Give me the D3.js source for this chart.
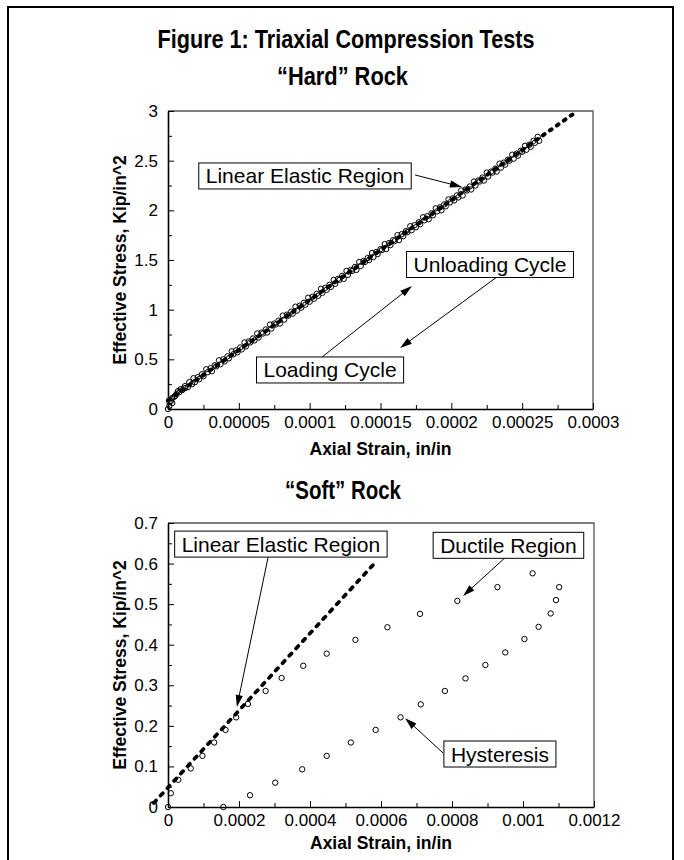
<!DOCTYPE html>
<html><head><meta charset="utf-8">
<script src="https://cdn.jsdelivr.net/npm/d3@7"></script>
<style>body{margin:0;background:#fff}svg{display:block}</style>
</head><body><div id="chart"></div>
<script>
// ---------- DATA ----------
// "Hard" rock (strain in micro-strain, stress in kip/in^2)
const hardLoadStrain = [0,1,2,3,4,6,8,10,12,14,17,19,22,25,28,31,34,37,40,43,46,49,52,55,58,61,64,67,70,73,76,79,82,85,88,91,94,97,100,103,106,109,112,115,118,121,124,127,130,133,136,139,142,145,148,151,154,157,160,163,166,169,172,175,178,181,184,187,190,193,196,199,202,205,208,211,214,217,220,223,226,229,232,235,238,241,244,247,250,253,256,259,262];
const hardLoadStress = [0,0.03,0.08,0.06,0.12,0.15,0.17,0.19,0.21,0.22,0.25,0.27,0.30,0.33,0.37,0.38,0.43,0.45,0.48,0.51,0.55,0.57,0.60,0.63,0.67,0.69,0.72,0.76,0.77,0.81,0.85,0.86,0.90,0.94,0.96,0.99,1.02,1.05,1.08,1.11,1.14,1.17,1.20,1.23,1.26,1.30,1.31,1.35,1.39,1.40,1.44,1.48,1.50,1.53,1.56,1.60,1.61,1.65,1.69,1.70,1.74,1.78,1.80,1.83,1.86,1.90,1.91,1.95,1.99,2.00,2.04,2.08,2.10,2.13,2.15,2.20,2.21,2.25,2.29,2.30,2.34,2.38,2.39,2.43,2.46,2.50,2.52,2.55,2.59,2.61,2.64,2.68,2.70];
const hardUnloadStrain = [261,258,255,252,249,246,243,240,237,234,231,228,225,222,219,216,213,210,207,204,201,198,195,192,189,186,183,180,177,174,171,168,165,162,159,156,153,150,147,144,141,138,135,132,129,126,123,120,117,114,111,108,105,102,99,96,93,90,87,84,81,78,75,72,69,66,63,60,57,54,51,48,45,42,39,36,33,30,27,24,21,18,15,12,9,7,5,3,1];
const hardUnloadStress = [2.74,2.70,2.66,2.65,2.60,2.57,2.56,2.51,2.48,2.47,2.42,2.39,2.38,2.33,2.30,2.29,2.24,2.21,2.20,2.15,2.12,2.11,2.06,2.03,2.02,1.97,1.94,1.93,1.88,1.85,1.84,1.79,1.76,1.75,1.70,1.67,1.66,1.61,1.58,1.57,1.52,1.49,1.48,1.43,1.40,1.39,1.34,1.31,1.30,1.25,1.22,1.21,1.16,1.13,1.12,1.07,1.04,1.03,0.98,0.95,0.94,0.89,0.86,0.85,0.80,0.77,0.76,0.71,0.68,0.67,0.62,0.59,0.58,0.53,0.50,0.49,0.44,0.41,0.40,0.35,0.32,0.31,0.27,0.23,0.20,0.18,0.13,0.11,0.07];
const hardFitStrain = [0, 287];
const hardFitStress = [0.09, 2.98];

// "Soft" rock (strain in micro-strain, stress in kip/in^2)
const softStrain = [0,8,29,64,97,130,162,192,225,275,320,381,447,528,618,710,815,928,1027,1102,1093,1078,1044,1004,950,894,838,780,712,655,585,515,447,378,302,231,156];
const softStress = [0,0.034,0.067,0.095,0.126,0.159,0.19,0.221,0.254,0.286,0.318,0.348,0.378,0.412,0.443,0.476,0.508,0.542,0.576,0.542,0.510,0.477,0.444,0.414,0.381,0.350,0.317,0.286,0.253,0.221,0.19,0.159,0.126,0.093,0.060,0.029,0.0];
const softFitStrain = [-40, 580];
const softFitStress = [0.01, 0.599];

// Axis ticks
const hardXTicks = [0,0.00005,0.0001,0.00015,0.0002,0.00025,0.0003];
const hardXTickLabels = ["0","0.00005","0.0001","0.00015","0.0002","0.00025","0.0003"];
const hardXMinor = [0.000025,0.000075,0.000125,0.000175,0.000225,0.000275];
const hardYTicks = [0,0.5,1,1.5,2,2.5,3];
const hardYTickLabels = ["0","0.5","1","1.5","2","2.5","3"];
const hardYMinor = [0.25,0.75,1.25,1.75,2.25,2.75];
const softXTicks = [0,0.0002,0.0004,0.0006,0.0008,0.001,0.0012];
const softXTickLabels = ["0","0.0002","0.0004","0.0006","0.0008","0.001","0.0012"];
const softXMinor = [0.0001,0.0003,0.0005,0.0007,0.0009,0.0011];
const softYTicks = [0,0.1,0.2,0.3,0.4,0.5,0.6,0.7];
const softYTickLabels = ["0","0.1","0.2","0.3","0.4","0.5","0.6","0.7"];
const softYMinor = [0.05,0.15,0.25,0.35,0.45,0.55,0.65];

// Annotations (data coordinates)
const hardNotes = [
  {text:"Linear Elastic Region", cx:0.0000967, cy:2.346, fx:0.0001744, fy:2.356, tx:0.0002075, ty:2.235},
  {text:"Unloading Cycle", cx:0.0002273, cy:1.455, fx:0.0002322, fy:1.329, tx:0.0001638, ty:0.614},
  {text:"Loading Cycle", cx:0.0001144, cy:0.393, fx:0.0001087, fy:0.523, tx:0.0001722, ty:1.238}
];
const softNotes = [
  {text:"Linear Elastic Region", cx:0.000318, cy:0.648, fx:0.000282, fy:0.616, tx:0.000194, ty:0.2465},
  {text:"Ductile Region", cx:0.000959, cy:0.645, fx:0.000949, fy:0.614, tx:0.000831, ty:0.520},
  {text:"Hysteresis", cx:0.000935, cy:0.1306, fx:0.000775, fy:0.133, tx:0.000668, ty:0.219}
];

// ---------- DRAWING ----------
const W = 684, H = 860;
const SANS = "'Liberation Sans', Arial, Helvetica, sans-serif";
const NARROW = "'Liberation Sans Narrow', 'Arial Narrow', 'Liberation Sans', sans-serif";
const svg = d3.select("#chart").append("svg").attr("width", W).attr("height", H)
  .style("background", "#fff");

// outer frame (open at bottom)
svg.append("path").attr("d", `M8,${H+5}V7H673V${H+5}`)
  .attr("fill", "none").attr("stroke", "#000").attr("stroke-width", 2);

function titleText(txt, x, y, len){
  svg.append("text").attr("x", x).attr("y", y).attr("text-anchor","middle")
    .attr("font-family", NARROW).attr("font-weight","bold").attr("font-size", 26)
    .attr("font-stretch","condensed")
    .attr("textLength", len).attr("lengthAdjust","spacingAndGlyphs")
    .text(txt);
}
titleText("Figure 1: Triaxial Compression Tests", 346, 48, 377);
titleText("\u201CHard\u201D Rock", 342.5, 85, 131);
titleText("\u201CSoft\u201D Rock", 343, 499, 116);

function panel(cfg){
  const x = d3.scaleLinear().domain(cfg.xDom).range([cfg.left, cfg.right]);
  const y = d3.scaleLinear().domain(cfg.yDom).range([cfg.bottom, cfg.top]);
  const g = svg.append("g");

  // top & right border
  g.append("path").attr("d", `M${cfg.left},${cfg.top}H${cfg.right}V${cfg.bottom}`)
    .attr("fill","none").attr("stroke","#555").attr("stroke-width",1.3);

  // minor ticks
  g.append("g").attr("transform",`translate(0,${cfg.bottom})`)
    .call(d3.axisBottom(x).tickValues(cfg.xMinor).tickSize(-4).tickFormat(""))
    .call(a=>a.select(".domain").remove());
  g.append("g").attr("transform",`translate(${cfg.left},0)`)
    .call(d3.axisLeft(y).tickValues(cfg.yMinor).tickSize(-4).tickFormat(""))
    .call(a=>a.select(".domain").remove());

  // major axes
  const xa = g.append("g").attr("transform",`translate(0,${cfg.bottom})`)
    .call(d3.axisBottom(x).tickValues(cfg.xTicks).tickSize(-6).tickSizeOuter(0).tickPadding(7)
      .tickFormat((d,i)=>cfg.xLabels[i]));
  const ya = g.append("g").attr("transform",`translate(${cfg.left},0)`)
    .call(d3.axisLeft(y).tickValues(cfg.yTicks).tickSize(-6).tickSizeOuter(0).tickPadding(10)
      .tickFormat((d,i)=>cfg.yLabels[i]));
  [xa, ya].forEach(a=>{
    a.select(".domain").attr("stroke","#000").attr("stroke-width",1.6);
    a.selectAll("text").attr("font-family",SANS).attr("font-size",17).attr("fill","#000");
  });
  g.selectAll(".tick line").attr("stroke","#000").attr("stroke-width",1);

  // axis titles
  g.append("text").attr("x",(cfg.left+cfg.right)/2).attr("y",cfg.bottom+cfg.xTitleGap)
    .attr("text-anchor","middle").attr("font-family",SANS).attr("font-weight","bold")
    .attr("font-size",17.5).text("Axial Strain, in/in");
  g.append("text").attr("transform",`translate(126,${(cfg.top+cfg.bottom)/2}) rotate(-90)`)
    .attr("text-anchor","middle").attr("font-family",SANS).attr("font-weight","bold")
    .attr("font-size",17.5).text("Effective Stress, Kip/in^2");

  // points
  cfg.series.forEach(s=>{
    g.append("g").selectAll("circle").data(s.xs.map((v,i)=>[v*1e-6, s.ys[i]]))
      .join("circle").attr("cx",d=>x(d[0])).attr("cy",d=>y(d[1])).attr("r",cfg.r)
      .attr("fill","none").attr("stroke","#000").attr("stroke-width",cfg.sw);
  });

  // fit dashed line
  const fit = cfg.fitX.map((v,i)=>[v*1e-6, cfg.fitY[i]]);
  g.append("path").attr("d", d3.line().x(d=>x(d[0])).y(d=>y(d[1]))(fit))
    .attr("fill","none").attr("stroke","#000").attr("stroke-width",cfg.dashW)
    .attr("stroke-linecap","round").attr("stroke-dasharray",cfg.dash);

  // annotations
  cfg.notes.forEach(n=>{
    const x1 = x(n.fx), y1 = y(n.fy), x2 = x(n.tx), y2 = y(n.ty);
    const a = Math.atan2(y2-y1, x2-x1), L = 12, w = 3.6;
    const bx = x2 - L*Math.cos(a), by = y2 - L*Math.sin(a);
    g.append("line").attr("x1",x1).attr("y1",y1).attr("x2",bx+2*Math.cos(a)).attr("y2",by+2*Math.sin(a))
      .attr("stroke","#000").attr("stroke-width",1);
    g.append("polygon").attr("points",[
      [x2,y2],[bx+w*Math.sin(a), by-w*Math.cos(a)],[bx-w*Math.sin(a), by+w*Math.cos(a)]
    ].map(p=>p.join(",")).join(" ")).attr("fill","#000");

    const cx = x(n.cx), cy = y(n.cy);
    const box = g.append("rect");
    const t = g.append("text").attr("x",cx).attr("y",cy+7.5).attr("text-anchor","middle")
      .attr("font-family",SANS).attr("font-size",21).text(n.text);
    const tw = t.node().getComputedTextLength();
    box.attr("x",cx-tw/2-7).attr("y",cy-13).attr("width",tw+14).attr("height",26)
      .attr("fill","#fff").attr("stroke","#000").attr("stroke-width",1);
  });
}

panel({
  left:168, right:593, top:111, bottom:409,
  xDom:[0,0.0003], yDom:[0,3],
  xTicks:hardXTicks, xLabels:hardXTickLabels, xMinor:hardXMinor,
  yTicks:hardYTicks, yLabels:hardYTickLabels, yMinor:hardYMinor,
  xTitleGap:46,
  series:[{xs:hardLoadStrain, ys:hardLoadStress},{xs:hardUnloadStrain, ys:hardUnloadStress}],
  r:2.7, sw:1,
  fitX:hardFitStrain, fitY:hardFitStress, dashW:4, dash:"2,6.5",
  notes:hardNotes
});
panel({
  left:168, right:594, top:523, bottom:807,
  xDom:[0,0.0012], yDom:[0,0.7],
  xTicks:softXTicks, xLabels:softXTickLabels, xMinor:softXMinor,
  yTicks:softYTicks, yLabels:softYTickLabels, yMinor:softYMinor,
  xTitleGap:42,
  series:[{xs:softStrain, ys:softStress}],
  r:2.7, sw:1,
  fitX:softFitStrain, fitY:softFitStress, dashW:3.7, dash:"3.3,6.7",
  notes:softNotes
});
</script></body></html>
